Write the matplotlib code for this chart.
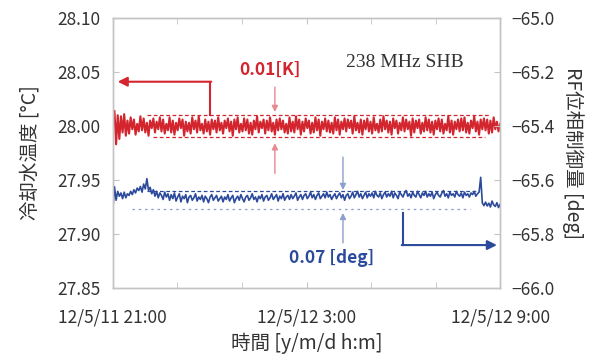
import numpy as np
import matplotlib
matplotlib.use('Agg')
import matplotlib.pyplot as plt

plt.rcParams['font.family'] = ['Noto Sans CJK JP', 'DejaVu Sans']

# time axis (hours after 12/5/11 21:00)
t_start, t_end = 0.0, 12.0
major_ticks = [0, 6, 12]
major_labels = ['12/5/11 21:00', '12/5/12 3:00', '12/5/12 9:00']
minor_ticks = [2, 4, 8, 10]

# cooling water temperature, deviation from 28.000 in mK
temp_base = 28.000
temp_dev = [
    0, 14, -17, 10, -12, 9, -6, 11, -9, 5,
    -7, 8, -3, 6, -8, 2, -5, 9, -4, 7,
    -6, 3, -9, 5, -2, 7, -6, 4, -3, 8,
    -5, 6, -7, 2, -4, 8, -6, 5, -8, 3,
    -4, 7, -2, 6, -9, 4, -5, 3, -7, 8,
    -3, 5, -6, 9, -4, 2, -7, 6, -5, 4,
    -8, 6, -3, 5, -6, 8, -4, 3, -7, 5,
    -2, 7, -5, 4, -9, 6, -3, 8, -6, 2,
    -5, 7, -4, 6, -7, 3, -8, 5, -3, 9,
    -6, 4, -2, 6, -7, 5, -4, 8, -5, 3,
    -8, 6, -4, 7, -3, 5, -6, 2, -7, 8,
    -5, 4, -6, 9, -3, 6, -8, 4, -5, 7,
    -2, 5, -7, 3, -6, 8, -4, 6, -9, 4,
    -3, 7, -5, 5, -6, 3, -7, 8, -4, 6,
    -8, 4, -3, 7, -5, 6, -2, 5, -7, 9,
    -4, 3, -6, 6, -8, 5, -3, 7, -5, 4,
    -7, 8, -4, 2, -6, 6, -5, 9, -3, 5,
    -6, 4, -8, 7, -2, 5, -7, 3, -4, 8,
    -5, 6, -3, 4, -9, 7, -6, 5, -2, 6,
    -7, 3, -5, 8, -4, 6, -6, 4, -8, 5,
    -3, 7, -5, 6, -7, 2, -4, 9, -6, 5,
    -8, 4, -3, 6, -5, 7, -4, 8, -6, 3,
    -7, 5, -2, 9, -5, 4, -8, 6, -3, 7,
    -4, 6, -7, 5, -6, 8, -3, 4, -5, 2,
]

# RF phase control, deviation from -65.660 deg in mdeg
phase_base = -65.660
phase_dev = [
    -50, 35, -15, 18, 0, 12, -9, 15, -6, 9,
    3, 18, 6, 24, 12, 30, 21, 36, 15, 45,
    27, 65, 21, 33, 9, 24, 0, 18, -6, 12,
    3, -12, 15, -3, 9, -15, 6, -9, 12, -18,
    -3, 9, -21, 0, -9, 6, -24, -3, 3, -15,
    -6, 9, -18, -3, -12, 3, -21, 0, -9, -24,
    -3, 6, -15, -6, 3, -18, -9, 0, -21, -3,
    -12, 6, -18, -6, 3, -24, -9, 0, -15, 6,
    -9, -21, -3, 3, -15, -6, 9, -12, -3, -21,
    0, -9, 6, -18, -3, 3, -15, -6, 9, -12,
    -3, 6, -18, 0, -9, 9, -15, -3, 3, -12,
    6, -9, 0, 12, -15, -3, 6, -12, 3, 9,
    -9, 0, 15, -6, 6, -12, 3, 12, -9, 0,
    9, -6, 15, -3, 6, -12, 0, 9, -9, 3,
    12, -6, 6, -15, 3, 9, -9, 0, 15, -6,
    6, 18, -3, 9, -9, 3, 15, -6, 9, 0,
    12, -6, 18, 3, -3, 12, -9, 6, 15, -3,
    9, 0, 18, -6, 12, 3, -9, 15, 6, -3,
    12, 21, 0, 9, -6, 15, 3, -3, 18, 6,
    -6, 12, 3, 18, -3, 9, 0, 15, -9, 6,
    15, 3, -3, 12, 21, 0, 9, -6, 15, 3,
    9, -3, 18, 6, 0, 12, -6, 15, 3, 9,
    -3, 12, 6, 18, 0, 9, 15, 70, -25, -35,
    -22, -36, -26, -40, -18, -32, -38, -24, -42, -30,
]

# band limits
temp_hi, temp_lo = 28.010, 27.990
phase_hi, phase_lo = -65.641, -65.707

red = '#d3252e'
red_light = '#e58a8f'
blue = '#2c4a9c'
blue_light = '#8c9fcf'
grey = '#c4c4c4'
txt = '#333333'

temp = temp_base + np.array(temp_dev) / 1000.0
phase = phase_base + np.array(phase_dev) / 1000.0
t_temp = np.linspace(t_start, t_end, len(temp))
t_phase = np.linspace(t_start, t_end, len(phase))

fig = plt.figure(figsize=(5.94, 3.6), dpi=100)
ax = fig.add_axes([0.190, 0.2, 0.652, 0.75])
ax2 = ax.twinx()

ax.plot(t_temp, temp, color=red, lw=1.5)
ax2.plot(t_phase, phase, color=blue, lw=1.2)

# dashed band lines
ax.plot([1.05, 11.7], [temp_hi, temp_hi], color=red, lw=0.9, ls=(0, (3, 2)))
ax.plot([1.24, 11.53], [temp_lo, temp_lo], color=red, lw=0.9, ls=(0, (3, 2)))
ax2.plot([1.05, 11.29], [phase_hi, phase_hi], color=blue, lw=0.9, ls=(0, (3, 2)))
ax2.plot([0.59, 11.07], [phase_lo, phase_lo], color=blue_light, lw=0.9, ls=(0, (2, 3)))

# red annotations
ax.plot([3.0, 3.0], [28.010, 28.041], color=red, lw=1.5)
ax.annotate('', xy=(0.15, 28.041), xytext=(3.05, 28.041),
            arrowprops=dict(arrowstyle='-|>', color=red, lw=1.5,
                            mutation_scale=14, shrinkA=0, shrinkB=0))
ax.annotate('', xy=(5.02, 28.013), xytext=(5.02, 28.036),
            arrowprops=dict(arrowstyle='-|>', color=red_light, lw=1.0,
                            mutation_scale=9, shrinkA=0, shrinkB=0))
ax.annotate('', xy=(5.02, 27.984), xytext=(5.02, 27.956),
            arrowprops=dict(arrowstyle='-|>', color=red_light, lw=1.0,
                            mutation_scale=9, shrinkA=0, shrinkB=0))
ax.text(4.87, 28.052, '0.01[K]', color=red, fontsize=12.5, fontweight='bold',
        ha='center', va='center')

# blue annotations
ax2.plot([8.99, 8.99], [-65.722, -65.841], color=blue, lw=1.5)
ax2.annotate('', xy=(11.9, -65.841), xytext=(8.95, -65.841),
             arrowprops=dict(arrowstyle='-|>', color=blue, lw=1.5,
                             mutation_scale=14, shrinkA=0, shrinkB=0))
ax2.annotate('', xy=(7.13, -65.637), xytext=(7.13, -65.515),
             arrowprops=dict(arrowstyle='-|>', color=blue_light, lw=1.0,
                             mutation_scale=9, shrinkA=0, shrinkB=0))
ax2.annotate('', xy=(7.13, -65.722), xytext=(7.13, -65.833),
             arrowprops=dict(arrowstyle='-|>', color=blue_light, lw=1.0,
                             mutation_scale=9, shrinkA=0, shrinkB=0))
ax2.text(6.79, -65.889, '0.07 [deg]', color=blue, fontsize=12.5, fontweight='bold',
         ha='center', va='center')

ax.text(9.05, 28.059, '238 MHz SHB', family='Liberation Serif', fontsize=14,
        color=txt, ha='center', va='center')

# axes
ax.set_xlim(t_start, t_end)
ax.set_ylim(27.85, 28.10)
ax2.set_ylim(-66.0, -65.0)
ax.set_xticks(major_ticks)
ax.set_xticklabels(major_labels)
ax.set_xticks(minor_ticks, minor=True)
ax.set_yticks(np.arange(27.85, 28.101, 0.05))
ax.set_yticklabels(['%.2f' % v for v in np.arange(27.85, 28.101, 0.05)])
ax2.set_yticks(np.arange(-66.0, -64.99, 0.2))
ax2.set_yticklabels(['\u2212%.1f' % abs(v) for v in np.arange(-66.0, -64.99, 0.2)])

for a in (ax, ax2):
    for s in a.spines.values():
        s.set_color(grey)
        s.set_linewidth(1.0)
ax.tick_params(axis='x', which='both', direction='in', top=True, length=4,
               color=grey, labelsize=12.5, labelcolor=txt, pad=15)
ax.tick_params(axis='y', direction='in', length=4, color=grey,
               labelsize=12.5, labelcolor=txt, pad=9)
ax2.tick_params(axis='y', direction='in', length=4, color=grey,
                labelsize=12.5, labelcolor=txt, pad=8)

ax.set_xlabel('時間 [y/m/d h:m]', fontsize=14, color=txt, labelpad=4)
ax.set_ylabel('冷却水温度 [°C]', fontsize=14, color=txt, labelpad=12)
ax2.set_ylabel('RF位相制御量 [deg]', fontsize=14, color=txt, rotation=-90,
               labelpad=21)

fig.savefig('out.png', dpi=100)
